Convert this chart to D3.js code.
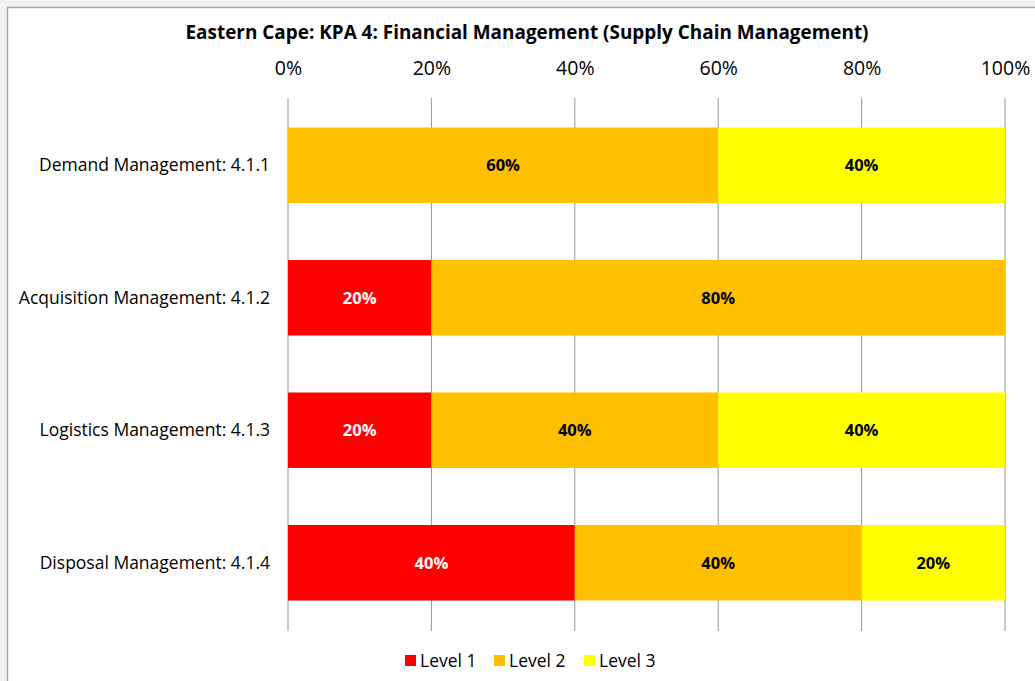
<!DOCTYPE html>
<html>
<head>
<meta charset="utf-8">
<script src="https://cdn.jsdelivr.net/npm/d3@7"></script>
<style>
  body { margin: 0; background: #f2f2f2; }
  text { font-family: "Open Sans", "Noto Sans", sans-serif; }
</style>
</head>
<body>
<script>
var categories = ["Demand Management: 4.1.1", "Acquisition Management: 4.1.2",
                  "Logistics Management: 4.1.3", "Disposal Management: 4.1.4"];
var level1 = [0, 20, 20, 40];
var level2 = [60, 80, 40, 40];
var level3 = [40, 0, 40, 20];
var seriesNames = ["Level 1", "Level 2", "Level 3"];
var colors = ["#ff0000", "#ffc000", "#ffff00"];
var labelColors = ["#ffffff", "#000000", "#000000"];
var ticks = [0, 20, 40, 60, 80, 100];

var w = 1035, h = 681;
var svg = d3.select("body").append("svg").attr("width", w).attr("height", h);

// chart frame
svg.append("rect").attr("x", 7.5).attr("y", 7.5).attr("width", w + 10).attr("height", h + 10)
  .attr("fill", "white").attr("stroke", "#a6a6a6").attr("stroke-width", 1.5);

var x = d3.scaleLinear().domain([0, 100]).range([288, 1005]);
var y = d3.scaleBand().domain(categories).range([99, 629]).paddingInner(0.43).paddingOuter(0.215);

svg.append("text").attr("x", 527).attr("y", 39).attr("text-anchor", "middle")
  .attr("font-size", "18.9px").attr("font-weight", "bold").attr("textLength", 683)
  .text("Eastern Cape: KPA 4: Financial Management (Supply Chain Management)");

// gridlines
svg.selectAll("line.grid").data(ticks).enter().append("line")
  .attr("class", "grid")
  .attr("x1", function(d) { return x(d); }).attr("x2", function(d) { return x(d); })
  .attr("y1", 98).attr("y2", 631)
  .attr("stroke", "#969696").attr("stroke-width", 1);

// top axis labels
var axis = d3.axisTop(x).tickValues(ticks).tickSize(0).tickFormat(function(d) { return d + "%"; });
var ga = svg.append("g").attr("transform", "translate(0,78)").call(axis);
ga.select(".domain").remove();
ga.selectAll("text").attr("font-size", "19.5px").attr("fill", "#000")
  .attr("font-family", "\"Open Sans\", sans-serif");

var stack = categories.map(function(c, i) {
  var vals = [level1[i], level2[i], level3[i]];
  var s = 0;
  return vals.map(function(v, k) {
    var seg = { cat: c, k: k, v: v, x0: s, x1: s + v };
    s += v;
    return seg;
  });
});
var segs = [].concat.apply([], stack).filter(function(d) { return d.v > 0; });

svg.selectAll("rect.bar").data(segs).enter().append("rect")
  .attr("class", "bar")
  .attr("x", function(d) { return x(d.x0); })
  .attr("width", function(d) { return x(d.x1) - x(d.x0); })
  .attr("y", function(d) { return y(d.cat); })
  .attr("height", y.bandwidth())
  .attr("fill", function(d) { return colors[d.k]; });

svg.selectAll("text.lbl").data(segs).enter().append("text")
  .attr("class", "lbl")
  .attr("x", function(d) { return (x(d.x0) + x(d.x1)) / 2; })
  .attr("y", function(d) { return y(d.cat) + y.bandwidth() / 2; })
  .attr("dy", "0.35em").attr("text-anchor", "middle")
  .attr("font-size", "16.5px").attr("font-weight", "bold")
  .attr("fill", function(d) { return labelColors[d.k]; })
  .text(function(d) { return d.v + "%"; });

// category labels
svg.selectAll("text.cat").data(categories).enter().append("text")
  .attr("class", "cat")
  .attr("x", 270)
  .attr("y", function(d) { return y(d) + y.bandwidth() / 2; })
  .attr("dy", "0.35em").attr("text-anchor", "end")
  .attr("font-size", "17.5px").attr("fill", "#000")
  .text(function(d) { return d; });

// legend
var legX = [405, 494, 584];
var leg = svg.selectAll("g.leg").data(seriesNames).enter().append("g")
  .attr("class", "leg")
  .attr("transform", function(d, i) { return "translate(" + legX[i] + ",655)"; });
leg.append("rect").attr("width", 11).attr("height", 11).attr("fill", function(d, i) { return colors[i]; });
leg.append("text").attr("x", 15).attr("y", 6).attr("dy", "0.35em")
  .attr("font-size", "17.5px").text(function(d) { return d; });
</script>
</body>
</html>
